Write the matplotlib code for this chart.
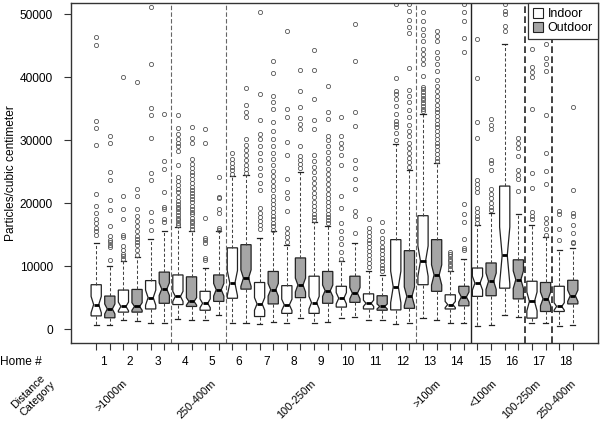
import numpy as np
import matplotlib.pyplot as plt
from matplotlib.patches import Patch
from matplotlib.transforms import blended_transform_factory

plt.rcParams['font.family'] = ['Liberation Sans', 'DejaVu Sans']

# box statistics, in thousands of particles/cm3, order: home1 in, home1 out, home2 in, ...
q1 = [2.1, 1.8, 2.7, 2.7, 3.2, 4.1, 3.9, 3.6, 3.0, 4.4, 4.9, 6.35, 2.0, 4.0, 2.5, 5.0, 2.5, 4.1,
      3.5, 4.25, 3.2, 3.0, 3.05, 3.3, 7.05, 6.0, 3.2, 3.7, 5.2, 5.3, 6.5, 4.8, 1.75, 2.8, 2.8, 4.0]
med = [3.9, 3.2, 3.6, 3.6, 5.0, 6.35, 5.2, 4.4, 4.1, 6.25, 7.3, 8.1, 4.0, 6.25, 3.85, 7.0, 4.2, 6.1,
       4.9, 5.7, 4.1, 3.6, 6.7, 5.2, 10.8, 8.6, 3.9, 5.1, 7.3, 7.6, 11.7, 7.85, 4.4, 4.8, 3.6, 5.3]
q3 = [7.05, 5.25, 6.2, 6.3, 7.7, 9.05, 8.6, 8.3, 6.0, 8.6, 12.9, 13.4, 7.4, 9.15, 6.9, 11.3, 8.4, 9.15,
      6.8, 8.4, 5.6, 5.3, 14.2, 12.45, 18.0, 14.2, 5.45, 6.8, 9.7, 10.5, 22.7, 11.0, 7.6, 7.4, 6.8, 7.75]
wlo = [0.6, 0.6, 1.4, 1.3, 1.0, 1.0, 1.6, 1.4, 1.4, 2.2, 1.0, 1.0, 0.8, 1.1, 0.9, 1.7, 1.0, 1.1,
       1.7, 2.0, 1.4, 1.4, 0.8, 0.9, 1.7, 1.5, 0.9, 1.0, 0.5, 0.7, 2.3, 2.0, 0.9, 0.9, 0.5, 0.6]
whi = [13.6, 10.0, 10.8, 11.5, 14.3, 15.6, 16.2, 15.5, 9.7, 15.5, 24.3, 24.4, 14.5, 15.5, 13.4, 25.0, 17.0, 16.4,
       10.8, 13.6, 9.15, 8.6, 29.3, 25.2, 34.2, 26.3, 9.3, 11.1, 16.6, 18.5, 45.2, 18.3, 16.6, 14.6, 12.6, 12.9]
notch = [1.3, 0.8, 0.7, 0.6, 1.2, 1.0, 0.8, 0.6, 0.7, 1.0, 2.0, 1.3, 1.0, 1.0, 0.9, 1.1, 1.0, 0.9,
         0.9, 0.9, 0.5, 0.4, 2.5, 1.5, 2.4, 1.6, 0.5, 0.8, 1.1, 1.3, 4.5, 1.4, 1.5, 1.1, 0.6, 0.9]

outliers = [
    [14.9, 15.5, 16.0, 16.9, 17.5, 18.5, 19.6, 21.4, 29.2, 31.9, 33.0, 45.1, 46.4],
    [11.0, 13.1, 13.4, 13.8, 14.2, 14.7, 16.3, 18.9, 20.5, 23.6, 24.9, 29.6, 30.6],
    [11.2, 11.6, 12.0, 12.5, 13.2, 14.6, 15.0, 17.5, 19.0, 21.1, 40.0],
    [11.8, 12.6, 13.4, 13.9, 14.3, 14.7, 15.5, 16.3, 17.1, 17.9, 19.0, 21.1, 22.3, 39.2],
    [15.8, 17.1, 18.6, 23.6, 24.8, 30.3, 34.0, 35.1, 42.0, 51.1],
    [17.0, 17.4, 19.0, 19.4, 21.7, 25.4, 26.7, 34.2],
    [16.5, 16.9, 17.3, 17.7, 18.1, 18.6, 19.0, 19.4, 19.9, 20.4, 21.0, 21.7, 22.3, 22.9,
     23.5, 24.1, 26.1, 28.3, 29.0, 29.6, 30.2, 31.0, 31.9, 34.0],
    [15.9, 16.3, 16.8, 17.2, 17.7, 18.2, 18.6, 19.1, 19.6, 20.1, 20.6, 21.1, 21.6, 22.1,
     22.6, 23.2, 23.8, 24.4, 25.0, 25.6, 26.2, 27.0, 29.5, 30.3, 32.1],
    [11.0, 11.3, 13.7, 14.1, 14.4, 17.7, 29.6, 31.7],
    [15.8, 16.1, 18.5, 19.0, 20.8, 20.9, 24.1],
    [24.6, 25.2, 25.8, 26.4, 27.0, 27.9],
    [24.8, 25.4, 26.0, 26.8, 27.6, 28.4, 29.2, 30.1, 33.6, 34.5, 35.5, 38.2],
    [15.9, 16.5, 17.2, 17.8, 18.5, 19.3, 22.0, 23.2, 24.5, 25.6, 26.8, 27.9, 29.0, 30.2,
     31.0, 33.2, 37.3, 50.4],
    [15.8, 16.3, 16.9, 17.5, 18.0, 18.6, 19.2, 19.8, 20.5, 21.2, 22.0, 22.7, 23.5, 24.3,
     25.1, 26.0, 27.0, 28.0, 29.0, 30.2, 31.5, 32.8, 35.0, 36.1, 37.0, 40.7, 42.5],
    [13.9, 14.6, 15.3, 16.1, 18.7, 20.8, 21.7, 23.9, 27.6, 29.7, 33.6, 34.9, 47.3],
    [25.5, 26.2, 26.9, 27.4, 29.0, 31.7, 32.6, 33.5, 35.2, 37.8, 41.1],
    [17.3, 17.8, 18.3, 18.9, 19.5, 20.2, 20.9, 21.6, 22.4, 23.2, 24.0, 24.9, 25.8, 26.7,
     27.7, 31.7, 33.2, 36.5, 41.1, 44.3],
    [16.8, 17.3, 17.8, 18.3, 18.9, 19.5, 20.1, 20.8, 21.5, 22.2, 23.0, 23.8, 24.6, 25.4,
     26.3, 27.2, 28.1, 29.0, 30.0, 30.6, 33.4, 34.5, 38.6],
    [11.2, 12.3, 13.5, 14.5, 15.5, 16.9, 19.2, 21.1, 26.1, 27.7, 28.8, 29.6, 30.6, 33.6],
    [15.3, 17.9, 18.7, 22.3, 23.8, 25.5, 26.9, 32.2, 34.5, 42.5, 48.4],
    [9.9, 10.5, 11.2, 11.8, 12.4, 13.1, 13.6, 14.2, 14.8, 15.4, 16.1, 17.5],
    [9.2, 9.7, 10.2, 10.8, 11.3, 11.9, 12.5, 13.1, 13.8, 14.5, 15.5, 17.0],
    [30.0, 31.2, 32.0, 32.5, 33.0, 34.2, 35.4, 36.5, 37.3, 37.8, 39.8, 51.6],
    [25.8, 26.5, 27.2, 28.0, 28.8, 29.6, 30.7, 31.5, 32.4, 33.7, 34.8, 36.0, 37.0, 38.0,
     41.5, 47.0, 48.0, 49.0, 50.5, 51.6],
    [34.6, 35.0, 35.4, 35.9, 36.3, 36.6, 37.2, 37.7, 38.1, 38.5, 40.2, 42.0, 42.8, 43.6,
     44.4, 45.7, 46.6, 47.6, 48.9, 50.3],
    [26.6, 27.2, 27.8, 28.4, 29.0, 29.6, 30.2, 30.8, 31.4, 32.0, 32.6, 33.2, 33.8, 34.4,
     35.0, 35.6, 36.3, 37.0, 37.8, 38.6, 39.6, 41.0, 42.0, 43.0, 44.0, 45.7, 46.5, 47.3],
    [9.6, 10.0, 10.4, 10.8, 11.2, 11.6, 12.0, 12.3],
    [12.5, 12.9, 14.3, 17.0, 18.3, 19.9, 43.9, 46.2, 48.9, 50.3, 51.6],
    [16.9, 17.4, 18.0, 18.6, 19.3, 21.7, 22.4, 23.0, 23.7, 30.3, 32.9, 39.8, 46.0],
    [18.9, 19.4, 20.0, 20.8, 21.5, 22.2, 25.2, 26.4, 26.9, 31.7, 32.4, 33.3],
    [47.3, 48.1, 50.0, 50.5, 51.6],
    [21.9, 23.8, 24.5, 25.3, 27.5, 28.8, 29.5, 30.4],
    [17.4, 18.0, 18.6, 22.4, 24.8, 35.0, 40.0, 40.8, 41.6, 44.4],
    [15.0, 15.9, 16.8, 17.7, 23.1, 25.1, 27.9, 33.9, 41.0, 42.0, 43.1, 45.2],
    [14.2, 15.9, 18.2, 18.7],
    [13.7, 13.9, 15.3, 16.6, 17.9, 18.5, 22.0, 35.3],
]

homes = [str(h) for h in range(1, 19)]
categories = ['>1000m', '250-400m', '100-250m', '>100m', '<100m', '100-250m', '250-400m']
cat_x = [3.2, 9.7, 17.0, 26.2, 30.35, 33.5, 36.15]
dashed_at = [6.5, 10.5, 24.5]
dashed_dark_at = [32.5, 34.5]
solid_at = [28.5]

FS = 8.6
FS_CAT = 7.9

stats = []
for i in range(36):
    stats.append(dict(med=med[i] * 1000, q1=q1[i] * 1000, q3=q3[i] * 1000,
                      whislo=wlo[i] * 1000, whishi=whi[i] * 1000,
                      cilo=(med[i] - notch[i]) * 1000, cihi=(med[i] + notch[i]) * 1000,
                      fliers=np.array(outliers[i]) * 1000))

fig = plt.figure(figsize=(6, 4.24), dpi=100)
ax = fig.add_axes([71 / 600, 1 - 343 / 424, 527 / 600, 340 / 424])

pos = np.arange(1, 37)
bp = ax.bxp(stats, positions=pos, widths=0.75, patch_artist=True, shownotches=True,
            capwidths=0.37,
            boxprops=dict(edgecolor='#222222', linewidth=0.9),
            whiskerprops=dict(color='#444444', linestyle=(0, (3, 2)), linewidth=0.75),
            capprops=dict(color='#222222', linewidth=0.9),
            medianprops=dict(color='black', linewidth=2),
            flierprops=dict(marker='o', markersize=3.0, markerfacecolor='none',
                            markeredgecolor='#555555', markeredgewidth=0.6))
for i, b in enumerate(bp['boxes']):
    b.set_facecolor('white' if i % 2 == 0 else '#a5a5a5')

for x in dashed_at:
    ax.axvline(x, color='#666666', linestyle=(0, (4, 2)), linewidth=0.8)
for x in dashed_dark_at:
    ax.axvline(x, color='#222222', linestyle=(0, (4, 2)), linewidth=1.2)
for x in solid_at:
    ax.axvline(x, color='#222222', linewidth=1.0)

ax.set_xlim(-0.85, 37.85)
ax.set_ylim(-2200, 51750)
ax.set_yticks([0, 10000, 20000, 30000, 40000, 50000])
ax.set_yticklabels(['0', '10000', '20000', '30000', '40000', '50000'])
ax.set_xticks(pos)
ax.set_xticklabels([''] * 36)
ax.tick_params(axis='y', direction='out', length=5, width=0.8, pad=8, labelsize=FS,
               color='#333333')
ax.tick_params(axis='x', direction='out', length=5, width=0.8, color='#333333')
for s in ax.spines.values():
    s.set_color('#333333')
    s.set_linewidth(1.0)
ax.set_ylabel('Particles/cubic centimeter', fontsize=FS)
ax.yaxis.set_label_coords(-54 / 527, 0.5)

tr = blended_transform_factory(ax.transData, fig.transFigure)
for h, lab in enumerate(homes):
    ax.text(2 * h + 1.5, 1 - 362 / 424, lab, transform=tr, ha='center', va='center',
            fontsize=FS)
fig.text(0.0, 1 - 362 / 424, 'Home #', ha='left', va='center', fontsize=FS)

for x, lab in zip(cat_x, categories):
    ax.text(x, 1 - 382 / 424, lab, transform=tr, rotation=45, rotation_mode='anchor',
            ha='right', va='center', fontsize=FS_CAT)
fig.text(43 / 600, 1 - 377 / 424, 'Distance', rotation=45, rotation_mode='anchor',
         ha='right', va='center', fontsize=FS_CAT)
fig.text(54 / 600, 1 - 383 / 424, 'Category', rotation=45, rotation_mode='anchor',
         ha='right', va='center', fontsize=FS_CAT)

handles = [Patch(facecolor='white', edgecolor='#222222', linewidth=0.8, label='Indoor'),
           Patch(facecolor='#a5a5a5', edgecolor='#222222', linewidth=0.8, label='Outdoor')]
leg = ax.legend(handles=handles, loc='upper right', borderaxespad=0, fontsize=9,
                handlelength=0.8, handleheight=0.8, handletextpad=0.4,
                labelspacing=0.15, borderpad=0.4, fancybox=False, framealpha=1)
leg.get_frame().set_edgecolor('#333333')
leg.get_frame().set_linewidth(0.9)

fig.savefig('out.png', dpi=100)
